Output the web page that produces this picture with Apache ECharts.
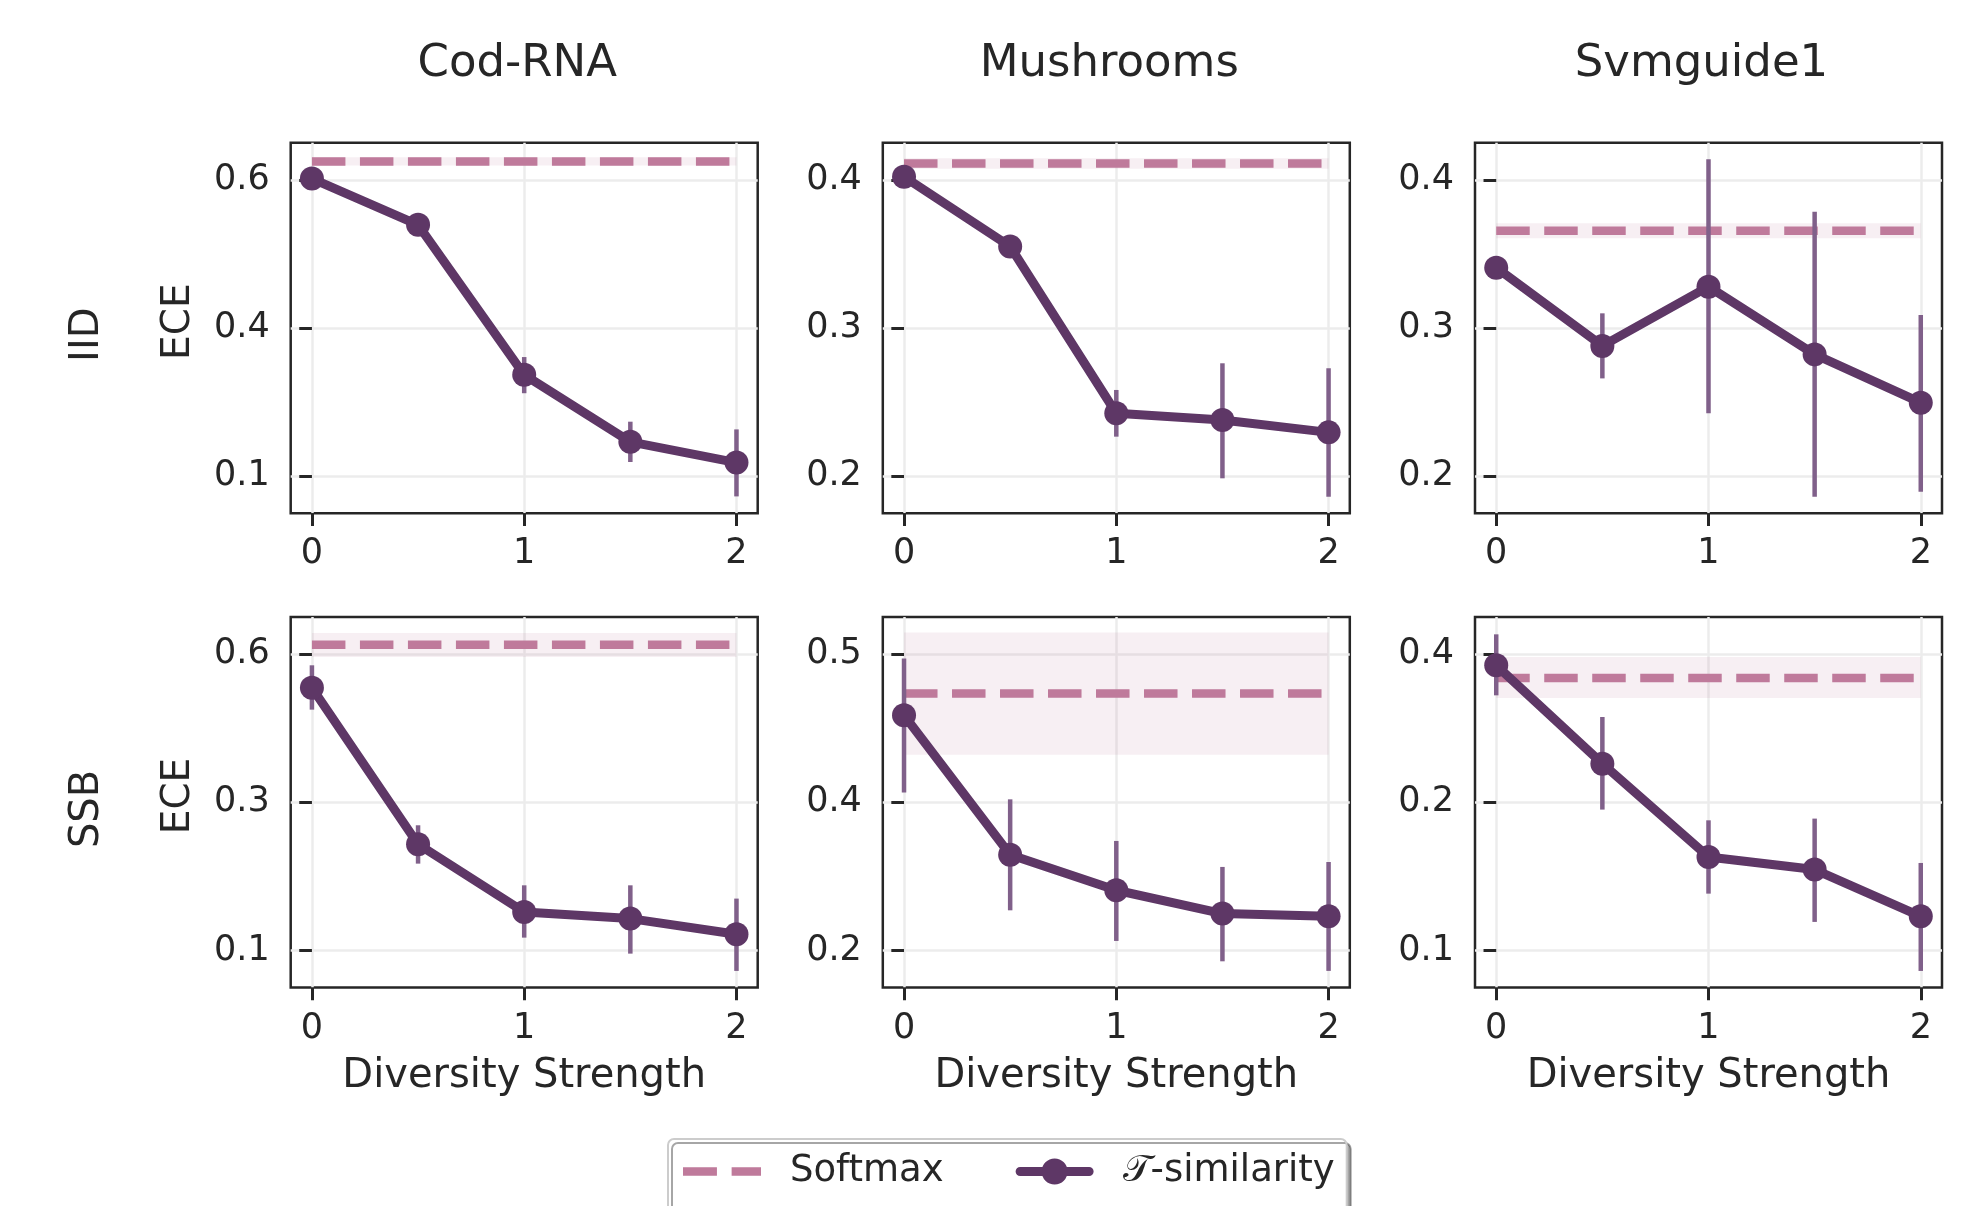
<!DOCTYPE html>
<html><head><meta charset="utf-8">
<script src="https://cdn.jsdelivr.net/npm/echarts@6/dist/echarts.min.js"></script>
<style>html,body{margin:0;padding:0;background:#fff}#c{width:1981px;height:1206px}</style>
</head><body><div id="c"></div>
<script>
// ---------------- data ----------------
const diversity = [0, 0.5, 1, 1.5, 2];
const datasets = ['Cod-RNA', 'Mushrooms', 'Svmguide1'];
const settings = ['IID', 'SSB'];

// T-similarity: mean ECE, lower / upper error bar (panel order: IID row, then SSB row)
const iidCodMean  = [0.627, 0.549, 0.296, 0.183, 0.148];
const iidCodLow   = [0.623, 0.545, 0.265, 0.149, 0.091];
const iidCodHigh  = [0.631, 0.553, 0.326, 0.217, 0.204];

const iidMushMean = [0.402, 0.355, 0.2425, 0.238, 0.2296];
const iidMushLow  = [0.399, 0.352, 0.2267, 0.1986, 0.1862];
const iidMushHigh = [0.405, 0.358, 0.2582, 0.2762, 0.2728];

const iidSvmMean  = [0.3407, 0.2879, 0.3279, 0.2822, 0.2496];
const iidSvmLow   = [0.3357, 0.266, 0.2425, 0.1862, 0.1896];
const iidSvmHigh  = [0.3457, 0.3099, 0.4138, 0.3785, 0.3088];

const ssbCodMean  = [0.5256, 0.272, 0.1625, 0.1517, 0.1263];
const ssbCodLow   = [0.49, 0.2407, 0.1209, 0.095, 0.067];
const ssbCodHigh  = [0.5618, 0.3028, 0.2056, 0.2056, 0.1841];

const ssbMushMean = [0.458, 0.317, 0.281, 0.2574, 0.2547];
const ssbMushLow  = [0.38, 0.2607, 0.2297, 0.2091, 0.1994];
const ssbMushHigh = [0.5154, 0.373, 0.3309, 0.3046, 0.3096];

const ssbSvmMean  = [0.3601, 0.2739, 0.1921, 0.181, 0.140];
const ssbSvmLow   = [0.3338, 0.2336, 0.1599, 0.1351, 0.0921];
const ssbSvmHigh  = [0.3873, 0.3148, 0.2242, 0.2257, 0.1868];

// Softmax baseline (mean and band) per panel
const softmaxMean = [0.656, 0.411, 0.3656, 0.5952, 0.48, 0.349];
const softmaxLow  = [0.649, 0.4075, 0.3606, 0.5752, 0.4182, 0.3315];
const softmaxHigh = [0.663, 0.4145, 0.3706, 0.614, 0.5417, 0.3674];

// y-axis ranges and tick positions per panel (labels shown with one decimal)
const yMins  = [0.0625, 0.175, 0.175, 0.04, 0.1825, 0.0775];
const yMaxs  = [0.6875, 0.425, 0.425, 0.64, 0.5575, 0.4025];
const yTicks = [[0.125, 0.375, 0.625], [0.2, 0.3, 0.4], [0.2, 0.3, 0.4],
                [0.10, 0.34, 0.58], [0.22, 0.37, 0.52], [0.11, 0.24, 0.37]];
const xTicks = [0, 1, 2];

const tsimMean = [iidCodMean, iidMushMean, iidSvmMean, ssbCodMean, ssbMushMean, ssbSvmMean];
const tsimLow  = [iidCodLow, iidMushLow, iidSvmLow, ssbCodLow, ssbMushLow, ssbSvmLow];
const tsimHigh = [iidCodHigh, iidMushHigh, iidSvmHigh, ssbCodHigh, ssbMushHigh, ssbSvmHigh];

// ---------------- style / layout ----------------
const FONT = 'DejaVu Sans';
const TXT = '#262626';
const PURPLE = '#5e3766';
const ERR = '#80608a';
const PINK = '#bf7a9b';
const BAND = 'rgba(190,120,155,0.12)';
const colLeft = [290.7, 882.8, 1475];
const rowTop = [142.7, 617];
const W = 467, H = 370.6;

const grids = [], xAxes = [], yAxes = [], series = [], graphics = [];
for (let r = 0; r < 2; r++) {
  for (let c = 0; c < 3; c++) {
    const k = r * 3 + c;
    grids.push({left: colLeft[c], top: rowTop[r], width: W, height: H, show: true,
      borderColor: TXT, borderWidth: 2.5, backgroundColor: 'transparent', containLabel: false});
    xAxes.push({type: 'value', gridIndex: k, min: -0.1, max: 2.1,
      axisLine: {show: false},
      axisTick: {show: true, inside: false, length: 12.7, customValues: xTicks, lineStyle: {color: TXT, width: 3}},
      axisLabel: {show: true, customValues: xTicks, margin: 23.5, fontSize: 35, fontFamily: FONT, color: TXT,
        formatter: v => String(Math.round(v))},
      splitLine: {show: true, lineStyle: {color: '#ececec', width: 2.5}}});
    yAxes.push({type: 'value', gridIndex: k, min: yMins[k], max: yMaxs[k],
      axisLine: {show: false},
      axisTick: {show: true, inside: false, length: 12.7, customValues: yTicks[k], lineStyle: {color: TXT, width: 3}},
      axisLabel: {show: true, customValues: yTicks[k], margin: 21, fontSize: 35, fontFamily: FONT, color: TXT,
        formatter: v => v.toFixed(1)},
      splitLine: {show: true, lineStyle: {color: '#ececec', width: 2.5}}});

    series.push({type: 'line', name: 'Softmax', xAxisIndex: k, yAxisIndex: k,
      data: [[diversity[0], softmaxMean[k]], [diversity[diversity.length - 1], softmaxMean[k]]],
      symbol: 'none', z: 2, silent: true,
      lineStyle: {color: PINK, width: 8.5, type: [33.5, 14.5]}, itemStyle: {color: PINK},
      markArea: {silent: true, itemStyle: {color: BAND}, label: {show: false},
        data: [[{coord: [diversity[0], softmaxLow[k]]}, {coord: [diversity[diversity.length - 1], softmaxHigh[k]]}]]}});

    series.push({type: 'custom', name: 'err' + k, xAxisIndex: k, yAxisIndex: k, z: 3, silent: true,
      data: diversity.map((d, i) => [d, tsimLow[k][i], tsimHigh[k][i]]),
      encode: {x: 0, y: [1, 2]},
      renderItem: (params, api) => {
        const p1 = api.coord([api.value(0), api.value(1)]);
        const p2 = api.coord([api.value(0), api.value(2)]);
        return {type: 'line', shape: {x1: p1[0], y1: p1[1], x2: p2[0], y2: p2[1]},
          style: {stroke: ERR, lineWidth: 4.5}};
      }});

    series.push({type: 'line', name: '𝒯-similarity', xAxisIndex: k, yAxisIndex: k, z: 4,
      data: diversity.map((d, i) => [d, tsimMean[k][i]]),
      symbol: 'circle', symbolSize: 24, showSymbol: true,
      lineStyle: {color: PURPLE, width: 9, cap: 'round', join: 'round'},
      itemStyle: {color: PURPLE}});
  }
}

// column titles & x-axis names
for (let c = 0; c < 3; c++) {
  const cx = colLeft[c] + W / 2;
  graphics.push({type: 'text', x: cx - 7, y: 64.5,
    style: {text: datasets[c], font: `45px "${FONT}"`, fill: TXT, textAlign: 'center', textVerticalAlign: 'middle'}});
  graphics.push({type: 'text', x: cx, y: 1076.5,
    style: {text: 'Diversity Strength', font: `40px "${FONT}"`, fill: TXT, textAlign: 'center', textVerticalAlign: 'middle'}});
}
// row labels & y-axis names
for (let r = 0; r < 2; r++) {
  graphics.push({type: 'text', x: 87.9, y: rowTop[r] + 192, rotation: Math.PI / 2,
    style: {text: settings[r], font: `40px "${FONT}"`, fill: TXT, textAlign: 'center', textVerticalAlign: 'middle'}});
  graphics.push({type: 'text', x: 178.9, y: rowTop[r] + 179, rotation: Math.PI / 2,
    style: {text: 'ECE', font: `39px "${FONT}"`, fill: TXT, textAlign: 'center', textVerticalAlign: 'middle'}});
}

// legend icons (dashed line; line with marker)
const dashIcon = 'path://M0,0H33.5V8.5H0Z M48,0H77V8.5H48Z';
const lineMarkerIcon = 'path://M4.5,8.5H73.5A4.5,4.5 0 0 1 73.5,17.5H4.5A4.5,4.5 0 0 1 4.5,8.5Z M26,13A13,13 0 1 1 52,13A13,13 0 1 1 26,13Z';

const chart = echarts.init(document.getElementById('c'), null, {renderer: 'canvas'});
chart.setOption({
  animation: false,
  backgroundColor: '#ffffff',
  grid: grids, xAxis: xAxes, yAxis: yAxes, series: series, graphic: graphics,
  legend: {
    data: [
      {name: 'Softmax', icon: dashIcon, itemStyle: {color: PINK, borderWidth: 0}},
      {name: '𝒯-similarity', icon: lineMarkerIcon, itemStyle: {color: PURPLE, borderWidth: 0}}
    ],
    left: 668, top: 1139, orient: 'horizontal', symbolKeepAspect: true,
    padding: [14, 12, 40, 15], itemGap: 72, itemWidth: 78, itemHeight: 32,
    backgroundColor: '#ffffff', borderColor: '#cccccc', borderWidth: 2, borderRadius: 6,
    shadowColor: 'rgba(0,0,0,0.35)', shadowOffsetX: 4, shadowOffsetY: 4, shadowBlur: 0,
    textStyle: {fontSize: 37, fontFamily: FONT, color: TXT, padding: [0, 0, 0, 24]},
    selectedMode: false
  }
});
</script></body></html>
